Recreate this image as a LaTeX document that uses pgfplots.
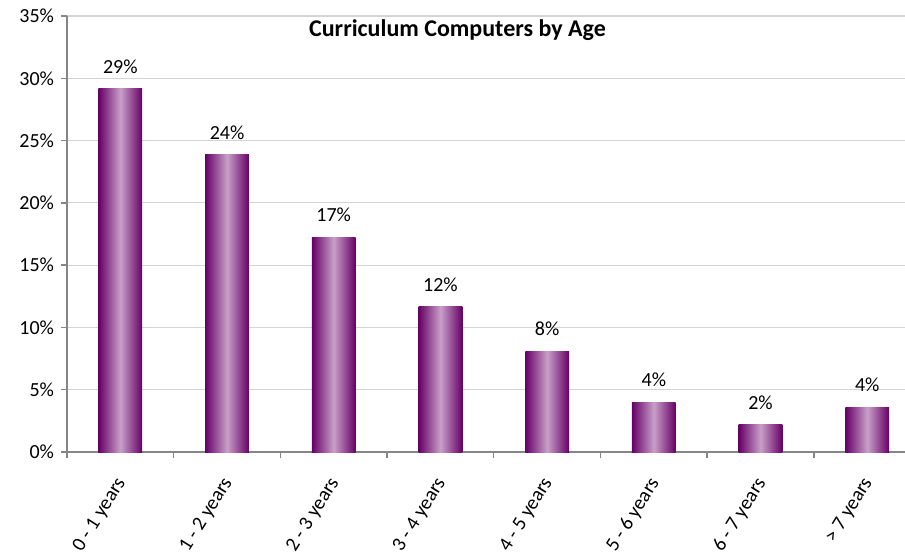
\documentclass[border=0pt]{standalone}
\usepackage{fontspec}
\setmainfont{Carlito}
\usepackage{pgfplots}
\pgfplotsset{compat=1.18}
\definecolor{bdark}{RGB}{102,0,102}
\definecolor{blight}{RGB}{200,160,200}
\definecolor{axgray}{RGB}{134,134,134}
\definecolor{gridgray}{RGB}{212,212,212}
\pgfplotsset{
  mybar/.style={ybar, bar width=0.41, bar shift=0pt, draw=none,
    left color=bdark, right color=bdark, middle color=blight,
    nodes near coords, point meta=explicit symbolic,
    nodes near coords style={font=\fontsize{10}{12}\selectfont, text=black, yshift=4pt}},
}
\begin{document}
\begin{tikzpicture}
\useasboundingbox (-33.5pt,-53.5pt) rectangle (419pt,226pt);
\begin{axis}[
  at={(0,0)}, anchor=south west,
  scale only axis, width=419pt, height=218pt,
  xmin=-0.5, xmax=7.354, ymin=0, ymax=35,
  axis lines=left,
  axis line style={-, draw=axgray, line width=0.7pt},
  tick align=outside,
  major tick length=3pt,
  every tick/.style={draw=axgray, line width=0.7pt},
  ymajorgrids=true,
  grid style={draw=gridgray, line width=0.6pt},
  ytick={0,5,...,35},
  yticklabel={\pgfmathprintnumber{\tick}\%},
  /pgf/number format/assume math mode=true,
  tick label style={font=\fontsize{10}{12}\selectfont, text=black},
  xtick={-0.5,0.5,...,6.5},
  xticklabels={},
  extra x ticks={0,1,2,3,4,5,6,7},
  extra x tick labels={0 - 1 years, 1 - 2 years, 2 - 3 years, 3 - 4 years, 4 - 5 years, 5 - 6 years, 6 - 7 years, > 7 years},
  extra x tick style={major tick length=0pt, grid=none,
    xticklabel style={xshift=2.5pt, yshift=-11pt, rotate=58, anchor=east, font=\fontsize{10}{12}\selectfont, text=black}},
]
\addplot[mybar] table[x=x, y=y, meta=lab] {
x y lab
0 29.2 29\%
};
\addplot[mybar] table[x=x, y=y, meta=lab] {
x y lab
1 23.9 24\%
};
\addplot[mybar] table[x=x, y=y, meta=lab] {
x y lab
2 17.25 17\%
};
\addplot[mybar] table[x=x, y=y, meta=lab] {
x y lab
3 11.65 12\%
};
\addplot[mybar] table[x=x, y=y, meta=lab] {
x y lab
4 8.1 8\%
};
\addplot[mybar] table[x=x, y=y, meta=lab] {
x y lab
5 4.0 4\%
};
\addplot[mybar] table[x=x, y=y, meta=lab] {
x y lab
6 2.17 2\%
};
\addplot[mybar] table[x=x, y=y, meta=lab] {
x y lab
7 3.6 4\%
};
\node[font=\bfseries\fontsize{12}{14}\selectfont, text=black] at (axis cs:3.16,33.9) {Curriculum Computers by Age};
\end{axis}
\end{tikzpicture}
\end{document}
